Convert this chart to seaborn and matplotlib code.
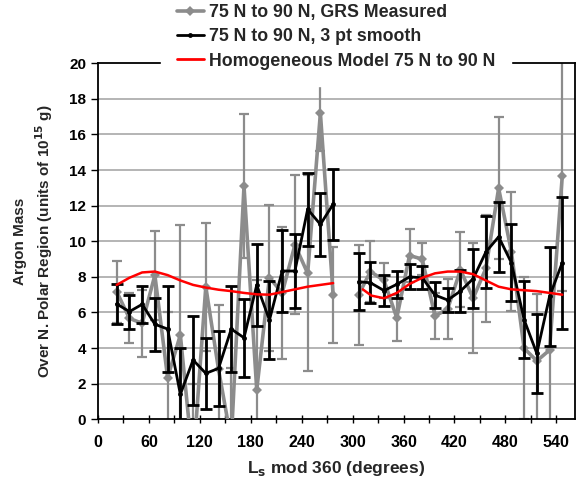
import numpy as np
import pandas as pd
import matplotlib
matplotlib.use('Agg')
import matplotlib.pyplot as plt
import seaborn as sns
from matplotlib.ticker import MultipleLocator
from matplotlib.lines import Line2D

# Ls (grados) de cada punto, dos tramos con un hueco cerca de 292
ls_1 = [22, 37, 52, 67, 82, 97, 112, 127, 142, 157, 172, 187, 202, 217, 232, 247, 262, 277]
ls_2 = [307, 321, 337, 352, 367, 382, 397, 412, 427, 442, 457, 472, 487, 502, 517, 532, 547]

# GRS medido (gris) y su error
grs_1 = [7.17, 5.67, 5.39, 8.1, 2.34, 4.74, -2.5, 7.45, 2.8, -1.2, 13.1, 1.65, 7.96, 7.1, 9.8, 8.2, 17.2, 7.0]
grs_err_1 = [1.75, 1.4, 1.9, 2.5, 3.7, 6.2, 4.5, 3.6, 3.6, 4.1, 4.05, 6.2, 4.1, 3.7, 3.9, 5.5, 2.1, 2.7]
grs_2 = [7.0, 8.3, 7.8, 5.7, 9.2, 9.0, 5.8, 6.2, 8.4, 6.8, 8.48, 12.98, 9.42, 3.99, 3.28, 3.89, 13.69]
grs_err_2 = [2.8, 1.7, 1.0, 1.3, 1.5, 0.9, 1.3, 1.7, 2.1, 3.1, 3.0, 4.0, 3.35, 4.0, 3.75, 5.75, 6.5]

# suavizado de 3 puntos (negro) y su error
smooth_1 = [6.48, 6.05, 6.46, 5.34, 5.07, 1.4, 3.33, 2.58, 2.86, 5.07, 4.58, 7.54, 5.58, 8.33, 8.33, 11.8, 10.95, 12.08]
smooth_err_1 = [1.1, 0.95, 1.05, 1.5, 2.4, 2.6, 2.5, 2.0, 2.1, 2.4, 2.2, 2.3, 2.2, 2.3, 2.1, 2.05, 1.76, 2.0]
smooth_2 = [7.73, 7.67, 7.23, 7.58, 8.0, 7.95, 6.98, 6.7, 7.2, 7.9, 9.4, 10.25, 8.8, 5.6, 3.7, 6.9, 8.8]
smooth_err_2 = [1.6, 1.15, 0.85, 0.75, 0.7, 0.65, 0.72, 0.7, 1.2, 1.65, 2.0, 1.95, 2.15, 2.15, 2.2, 2.8, 3.7]

# modelo homogeneo (rojo)
model_ls_2 = [312, 322, 337, 352, 367, 382, 397, 412, 427, 442, 457, 472, 487, 502, 517, 532, 547]
model_1 = [7.55, 7.95, 8.25, 8.3, 8.1, 7.8, 7.55, 7.4, 7.28, 7.2, 7.1, 7.02, 7.0, 7.15, 7.3, 7.45, 7.55, 7.65]
model_2 = [7.3, 6.95, 6.8, 7.1, 7.6, 7.95, 8.2, 8.3, 8.3, 8.15, 7.8, 7.45, 7.3, 7.25, 7.2, 7.1, 7.0]

lbl_grs = '75 N to 90 N, GRS Measured'
lbl_smooth = '75 N to 90 N, 3 pt smooth'
lbl_model = 'Homogeneous Model 75 N to 90 N'


def tabla(xs, ys, errs=None):
    filas = []
    for seg, (x, y) in enumerate(zip(xs, ys)):
        d = pd.DataFrame({'ls': x, 'val': y, 'seg': seg})
        if errs is not None:
            d['err'] = errs[seg]
        filas.append(d)
    return pd.concat(filas, ignore_index=True)


df_grs = tabla([ls_1, ls_2], [grs_1, grs_2], [grs_err_1, grs_err_2])
df_smooth = tabla([ls_1, ls_2], [smooth_1, smooth_2], [smooth_err_1, smooth_err_2])
df_model = tabla([ls_1, model_ls_2], [model_1, model_2])

sns.set_theme(style='white')
plt.rcParams['font.family'] = ['Liberation Sans', 'DejaVu Sans']
plt.rcParams['font.weight'] = 'bold'

gris = '#8c8c8c'
fig = plt.figure(figsize=(5.81, 4.88), dpi=100)
ax = fig.add_axes([0.1687, 0.1408, 0.8210, 0.7295])

for y in range(2, 20, 2):
    ax.axhline(y, color='#a8a8a8', lw=1.2, zorder=0)

ax.errorbar(df_grs['ls'], df_grs['val'], yerr=df_grs['err'], fmt='none',
            ecolor=gris, elinewidth=1.6, capsize=3.5, capthick=1.6, zorder=2)
sns.lineplot(data=df_grs, x='ls', y='val', units='seg', estimator=None, sort=False,
             color=gris, lw=2.6, marker='D', markersize=5, markeredgewidth=0, ax=ax, zorder=3)

ax.errorbar(df_smooth['ls'], df_smooth['val'], yerr=df_smooth['err'], fmt='none',
            ecolor='black', elinewidth=2.0, capsize=4, capthick=2.0, zorder=4)
sns.lineplot(data=df_smooth, x='ls', y='val', units='seg', estimator=None, sort=False,
             color='black', lw=2.0, marker='o', markersize=3.5, markeredgewidth=0, ax=ax, zorder=5)

sns.lineplot(data=df_model, x='ls', y='val', units='seg', estimator=None, sort=False,
             color='red', lw=1.8, ax=ax, zorder=6)

ax.set_xlim(0, 562)
ax.set_ylim(0, 20)
ax.xaxis.set_major_locator(MultipleLocator(60))
ax.xaxis.set_minor_locator(MultipleLocator(30))
ax.yaxis.set_major_locator(MultipleLocator(2))
ax.tick_params(axis='x', which='both', direction='inout', length=6, width=1, colors='black',
               labelsize=11.5, pad=8, bottom=True)
ax.tick_params(axis='y', direction='out', length=5, width=1, colors='black',
               labelsize=11, left=True)
for lab in ax.get_xticklabels() + ax.get_yticklabels():
    lab.set_fontweight('bold')
for sp in ax.spines.values():
    sp.set_color('black')
    sp.set_linewidth(1.3)

ax.set_xlabel('L$_\\mathbf{s}$ mod 360 (degrees)', fontsize=12.5, fontweight='bold', labelpad=7)
ax.set_ylabel('Argon Mass\nOver N. Polar Region (units of 10$^{\\mathbf{15}}$ g)',
              fontsize=11, fontweight='bold', linespacing=1.4, labelpad=10)

handles = [
    Line2D([], [], color=gris, lw=2.6, marker='D', markersize=5, markeredgewidth=0),
    Line2D([], [], color='black', lw=2.0, marker='o', markersize=3.5, markeredgewidth=0),
    Line2D([], [], color='red', lw=2.0),
]
leg = ax.legend(handles, [lbl_grs, lbl_smooth, lbl_model], loc='center',
                bbox_to_anchor=(0.499, 1.074), frameon=True, fancybox=False, framealpha=1,
                edgecolor='white', handlelength=1.5, handletextpad=0.3, labelspacing=0.4,
                borderpad=0.9, prop={'weight': 'bold', 'size': 12.8})
leg.set_zorder(10)

fig.savefig('out.png', dpi=100)
